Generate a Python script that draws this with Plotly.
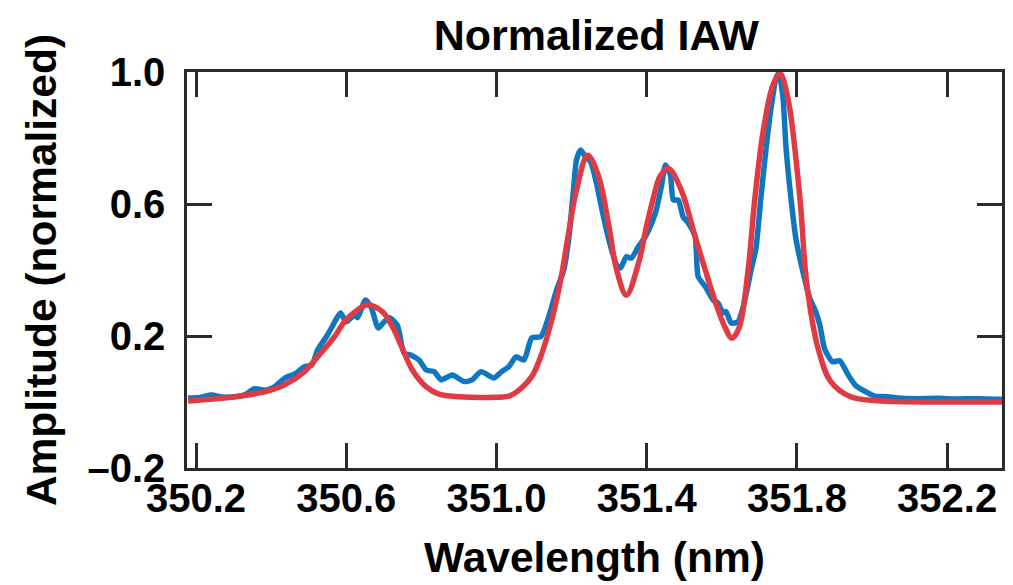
import plotly.graph_objects as go

# Measured ion-acoustic-wave spectrum (normalized amplitude vs wavelength, nm)
measured_wl = [
    350.179, 350.210, 350.242, 350.269, 350.303, 350.330, 350.356, 350.383,
    350.409, 350.436, 350.463, 350.489, 350.508, 350.524, 350.550, 350.577,
    350.585, 350.600, 350.622, 350.630, 350.651, 350.667, 350.685, 350.701,
    350.715, 350.736, 350.754, 350.773, 350.794, 350.813, 350.834, 350.853,
    350.882, 350.914, 350.935, 350.959, 350.993, 351.014, 351.033, 351.052,
    351.073, 351.094, 351.118, 351.139, 351.160, 351.179, 351.192, 351.205,
    351.213, 351.224, 351.237, 351.251, 351.266, 351.285, 351.304, 351.320,
    351.330, 351.346, 351.359, 351.378, 351.399, 351.423, 351.439, 351.450,
    351.463, 351.471, 351.484, 351.497, 351.511, 351.529, 351.537, 351.556,
    351.577, 351.590, 351.603, 351.611, 351.625, 351.643, 351.657, 351.678,
    351.691, 351.704, 351.718, 351.731, 351.744, 351.752, 351.763, 351.771,
    351.784, 351.797, 351.816, 351.834, 351.850, 351.861, 351.874, 351.895,
    351.914, 351.935, 351.956, 351.980, 352.007, 352.041, 352.068, 352.121,
    352.174, 352.227, 352.280, 352.346,
]
measured_amp = [
    0.012, 0.014, 0.021, 0.015, 0.016, 0.022, 0.040, 0.036,
    0.046, 0.072, 0.085, 0.107, 0.112, 0.158, 0.203, 0.258,
    0.270, 0.243, 0.264, 0.255, 0.309, 0.285, 0.224, 0.243,
    0.255, 0.233, 0.148, 0.142, 0.127, 0.097, 0.092, 0.067,
    0.082, 0.062, 0.067, 0.092, 0.073, 0.092, 0.107, 0.137,
    0.127, 0.194, 0.198, 0.258, 0.339, 0.400, 0.491, 0.642,
    0.733, 0.764, 0.743, 0.728, 0.664, 0.561, 0.471, 0.415,
    0.406, 0.440, 0.436, 0.471, 0.506, 0.572, 0.652, 0.718,
    0.688, 0.612, 0.612, 0.561, 0.542, 0.501, 0.380, 0.350,
    0.309, 0.300, 0.270, 0.274, 0.239, 0.243, 0.289, 0.400,
    0.467, 0.618, 0.770, 0.890, 0.980, 0.997, 0.920, 0.770,
    0.618, 0.497, 0.394, 0.315, 0.274, 0.233, 0.160, 0.122,
    0.125, 0.085, 0.050, 0.033, 0.018, 0.016, 0.012, 0.010,
    0.011, 0.009, 0.010, 0.008,
]

# Fitted spectrum
fit_wl = [
    350.179, 350.303, 350.383, 350.436, 350.489, 350.524, 350.569, 350.595,
    350.622, 350.656, 350.696, 350.723, 350.749, 350.776, 350.813, 350.847,
    350.900, 350.980, 351.033, 351.060, 351.094, 351.121, 351.147, 351.171,
    351.192, 351.213, 351.243, 351.272, 351.298, 351.320, 351.346, 351.378,
    351.399, 351.418, 351.436, 351.458, 351.492, 351.529, 351.564, 351.590,
    351.609, 351.627, 351.646, 351.670, 351.688, 351.710, 351.736, 351.755,
    351.776, 351.808, 351.826, 351.856, 351.890, 351.943, 352.015, 352.200,
    352.346,
]
fit_amp = [
    0.003, 0.016, 0.031, 0.052, 0.092, 0.137, 0.198, 0.243,
    0.272, 0.294, 0.274, 0.228, 0.163, 0.097, 0.046, 0.024,
    0.016, 0.014, 0.018, 0.036, 0.077, 0.148, 0.248, 0.370,
    0.512, 0.642, 0.748, 0.683, 0.542, 0.400, 0.324, 0.420,
    0.530, 0.620, 0.685, 0.708, 0.642, 0.501, 0.370, 0.279,
    0.225, 0.193, 0.225, 0.400, 0.617, 0.819, 0.960, 0.995,
    0.920, 0.617, 0.360, 0.164, 0.062, 0.016, 0.004, 0.000,
    0.000,
]

x_ticks = [350.2, 350.6, 351.0, 351.4, 351.8, 352.2]
y_ticks = [-0.2, 0.2, 0.6, 1.0]
y_tick_text = ["–0.2", "0.2", "0.6", "1.0"]

FONT = "Liberation Sans, Arial, Helvetica, sans-serif"
AXIS_COLOR = "#2b2b2b"

fig = go.Figure()
fig.add_trace(go.Scatter(
    x=measured_wl, y=measured_amp, mode="lines",
    line=dict(color="#0f76bf", width=5.5, shape="spline", smoothing=0.6),
    showlegend=False,
))
fig.add_trace(go.Scatter(
    x=fit_wl, y=fit_amp, mode="lines",
    line=dict(color="#e03a44", width=5.5, shape="spline", smoothing=1.0),
    showlegend=False,
))

axis_common = dict(
    showline=True, linecolor=AXIS_COLOR, linewidth=2.5,
    mirror="ticks", ticks="inside", ticklen=25, tickwidth=2.5,
    tickcolor=AXIS_COLOR, showgrid=False, zeroline=False,
    tickfont=dict(family=FONT, size=40, color="black", weight="bold"),
)

fig.update_layout(
    width=1013, height=585,
    margin=dict(l=187, r=8, t=72, b=117),
    paper_bgcolor="white", plot_bgcolor="white",
    title=dict(
        text="Normalized IAW", x=0.5886, xanchor="center",
        y=1 - 35 / 585, yanchor="middle", yref="container",
        font=dict(family=FONT, size=43, color="black", weight="bold"),
    ),
    xaxis=dict(
        range=[350.176, 352.346], tickvals=x_ticks,
        ticktext=[f"{v:.1f}" for v in x_ticks],
        ticklabelstandoff=-7,
        title=dict(text="Wavelength (nm)", standoff=24,
                   font=dict(family=FONT, size=42.5, color="black", weight="bold")),
        **axis_common,
    ),
    yaxis=dict(
        range=[-0.2, 1.0], tickvals=y_ticks, ticktext=y_tick_text,
        ticklabelstandoff=11,
        title=dict(text="Amplitude (normalized)", standoff=18,
                   font=dict(family=FONT, size=42.5, color="black", weight="bold")),
        **axis_common,
    ),
)

fig.write_html("out.html")
